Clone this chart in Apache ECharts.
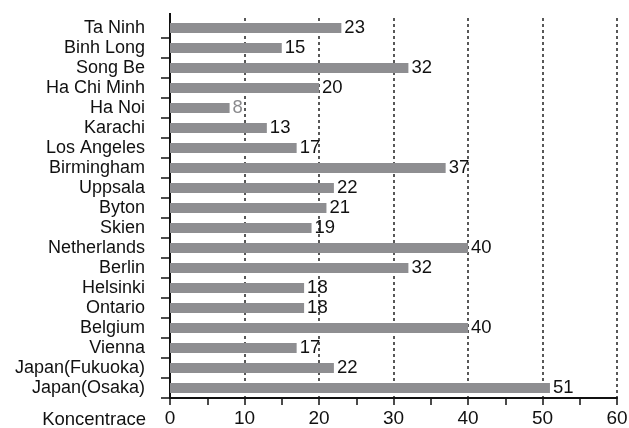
<!DOCTYPE html>
<html>
<head>
<meta charset="utf-8">
<script src="https://cdn.jsdelivr.net/npm/echarts@6/dist/echarts.min.js"></script>
<style>
html,body{margin:0;padding:0;background:#fff;}
#c{width:629px;height:428px;}
</style>
</head>
<body>
<div id="c"></div>
<script>
const categories = ["Ta Ninh","Binh Long","Song Be","Ha Chi Minh","Ha Noi","Karachi","Los Angeles","Birmingham","Uppsala","Byton","Skien","Netherlands","Berlin","Helsinki","Ontario","Belgium","Vienna","Japan(Fukuoka)","Japan(Osaka)"];
const values = [23,15,32,20,8,13,17,37,22,21,19,40,32,18,18,40,17,22,51];
const xTicks = [0,10,20,30,40,50,60];
const axisName = "Koncentrace";

const FONT = "'Liberation Sans', Arial, sans-serif";
const chart = echarts.init(document.getElementById('c'), null, {renderer:'canvas'});
const data = values.map((v,i)=>({
  value: v,
  label: categories[i]==="Ha Noi" ? {color:'#8a8a8d'} : undefined
}));
chart.setOption({
  animation:false,
  backgroundColor:'#fff',
  grid:{left:170,right:12,top:18,bottom:30,containLabel:false,outerBoundsMode:'none'},
  xAxis:{
    type:'value',min:xTicks[0],max:xTicks[xTicks.length-1],interval:10,
    name:axisName,nameLocation:'start',nameGap:24,
    nameTextStyle:{fontFamily:FONT,fontSize:18.5,color:'#111',verticalAlign:'top',padding:[12,0,0,0]},
    axisLine:{show:true,lineStyle:{color:'#111',width:2}},
    axisTick:{show:true,length:7,lineStyle:{color:'#111',width:1.5}},
    minorTick:{show:true,splitNumber:2,length:7,lineStyle:{color:'#111',width:1.5}},
    splitLine:{show:true,lineStyle:{color:'#222',width:1.5,type:[3,3]}},
    axisLabel:{fontFamily:FONT,fontSize:19,color:'#111',margin:11}
  },
  yAxis:{
    type:'category',inverse:true,data:categories,
    axisLine:{show:true,lineStyle:{color:'#111',width:2}},
    axisTick:{show:true,length:9,lineStyle:{color:'#111',width:1.5}},
    axisLabel:{fontFamily:FONT,fontSize:18,color:'#111',margin:25,interval:0},
    splitLine:{show:false}
  },
  series:[{
    type:'bar',data:data,barWidth:10,
    itemStyle:{color:'#8e8e91'},
    label:{show:true,position:'right',distance:3,fontFamily:FONT,fontSize:18.5,color:'#111'}
  }],
  graphic:[
    {type:'line',z:100,shape:{x1:170,y1:13,x2:170,y2:19},style:{stroke:'#111',lineWidth:2},silent:true},
    {type:'rect',z:100,shape:{x:155,y:15,width:14,height:6},style:{fill:'#fff'},silent:true}
  ]
});
</script>
</body>
</html>
